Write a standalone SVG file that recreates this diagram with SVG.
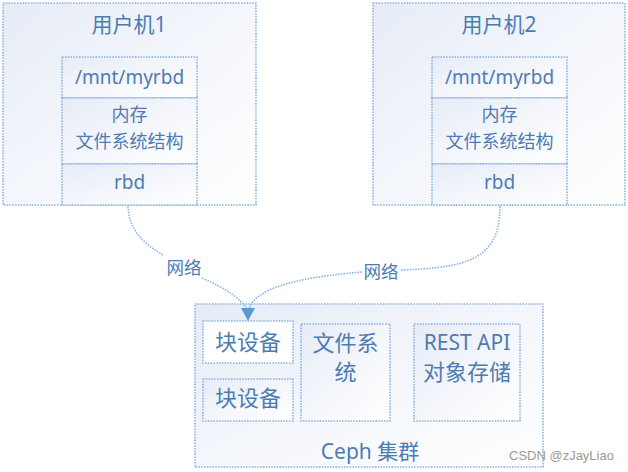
<svg xmlns="http://www.w3.org/2000/svg" width="628" height="472" viewBox="0 0 628 472">
<defs>
<linearGradient id="g" x1="0" y1="0" x2="1" y2="1">
<stop offset="0" stop-color="#e6ecf6"/>
<stop offset="0.6" stop-color="#f6f8fc"/>
<stop offset="1" stop-color="#ffffff"/>
</linearGradient>
<style>
.box{fill:url(#g);stroke:#8fb4e0;stroke-width:1.6;stroke-dasharray:1.6 1.2}
.wbox{fill:#ffffff;stroke:#8fb4e0;stroke-width:1.6;stroke-dasharray:1.6 1.2}
.line{fill:none;stroke:#8fb4e0;stroke-width:1.6;stroke-dasharray:1.6 1.2}
.t{font-family:"Noto Sans","Noto Sans CJK SC",sans-serif;fill:#4d7cb3;text-anchor:middle}
.wm{font-family:"Liberation Sans",Arial,sans-serif;fill:#9a9a9a;font-size:13px}
</style>
</defs>
<rect width="628" height="472" fill="#ffffff"/>
<g id="host1">
<rect class="box" x="3" y="3" width="253" height="202"/>
<text class="t" x="129" y="32" font-size="21">用户机1</text>
<rect class="box" x="62" y="57" width="135" height="41"/>
<text class="t" x="129.5" y="84" font-size="19">/mnt/myrbd</text>
<rect class="box" x="62" y="98" width="135" height="66"/>
<text class="t" x="129.5" y="121" font-size="18">内存</text>
<text class="t" x="129.5" y="148" font-size="18">文件系统结构</text>
<rect class="box" x="62" y="164" width="135" height="41"/>
<text class="t" x="129.5" y="189" font-size="19">rbd</text>
</g>
<g id="host2">
<rect class="box" x="373" y="3" width="252" height="202"/>
<text class="t" x="499" y="32" font-size="21">用户机2</text>
<rect class="box" x="432" y="57" width="135" height="41"/>
<text class="t" x="499.5" y="84" font-size="19">/mnt/myrbd</text>
<rect class="box" x="432" y="98" width="135" height="66"/>
<text class="t" x="499.5" y="121" font-size="18">内存</text>
<text class="t" x="499.5" y="148" font-size="18">文件系统结构</text>
<rect class="box" x="432" y="164" width="135" height="41"/>
<text class="t" x="499.5" y="189" font-size="19">rbd</text>
</g>
<g id="ceph">
<rect class="box" x="195" y="304" width="348" height="163"/>
<rect class="wbox" x="203" y="321" width="90" height="42"/>
<text class="t" x="248" y="350" font-size="22">块设备</text>
<rect class="box" x="203" y="379" width="90" height="42"/>
<text class="t" x="248" y="406" font-size="22">块设备</text>
<rect class="box" x="301" y="324" width="89" height="97"/>
<text class="t" x="345.5" y="351" font-size="22">文件系</text>
<text class="t" x="345.5" y="380" font-size="22">统</text>
<rect class="box" x="414" y="324" width="106" height="97"/>
<text class="t" x="467" y="350" font-size="21">REST API</text>
<text class="t" x="467" y="380" font-size="22">对象存储</text>
<text class="t" x="370" y="459" font-size="21">Ceph 集群</text>
</g>
<g id="connectors">
<path class="line" d="M128,206 C129,225 137,240 163,255"/>
<path class="line" d="M202,278 C225,288 240,298 247,309"/>
<path class="line" d="M500,206 C500,258 470,268 400,270"/>
<path class="line" d="M362,272 C290,278 255,290 249,309"/>
<polygon points="241,308 255,308 248,321" fill="#5b9bd5"/>
<text class="t" x="184" y="274" font-size="17.5">网络</text>
<text class="t" x="381" y="278" font-size="17.5">网络</text>
</g>
<text class="wm" x="509" y="460">CSDN @zJayLiao</text>
</svg>
